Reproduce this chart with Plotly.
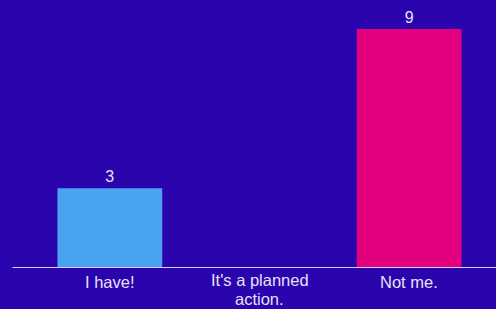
import plotly.graph_objects as go

categories = ["I have!", "It's a planned\naction.", "Not me."]
values = [3, 0, 9]
value_labels = ["3", "", "9"]
bar_colors = ["#4aa3f0", "#4aa3f0", "#e3007f"]

TXT = "#e8e0f8"
FONT = "Liberation Sans, Arial"

fig = go.Figure(go.Bar(
    x=categories, y=values, text=value_labels, textposition="outside",
    textfont=dict(color=TXT, size=16, family=FONT),
    marker=dict(color=bar_colors, line=dict(width=0)),
    width=0.7, cliponaxis=False,
))

annotations = []
for cat in categories:
    lines = cat.split("\n")
    for i, line in enumerate(lines):
        shift = -4 if len(lines) == 1 else (-2 - 19 * i)
        annotations.append(dict(
            x=cat, y=0, xref="x", yref="y", text=line, showarrow=False,
            yanchor="top", xanchor="center", yshift=shift, borderpad=0,
            font=dict(size=16.5, color=TXT, family=FONT),
        ))

fig.update_layout(
    width=496, height=309,
    margin=dict(l=35, r=12, t=29, b=41),
    paper_bgcolor="#2a04ad", plot_bgcolor="#2a04ad",
    showlegend=False,
    font=dict(family=FONT, color=TXT, size=16),
    xaxis=dict(showgrid=False, zeroline=False, showline=False, ticks="",
               showticklabels=False, automargin=False),
    yaxis=dict(range=[0, 9], visible=False, showgrid=False, zeroline=False,
               automargin=False),
    shapes=[dict(type="line", xref="paper", yref="y", x0=-0.05, x1=1.03, y0=0, y1=0,
                 line=dict(color="#d8cdf2", width=2))],
    annotations=annotations,
)

fig.write_html("out.html", config={"displayModeBar": False},
               post_script="document.body.style.margin='0';")
